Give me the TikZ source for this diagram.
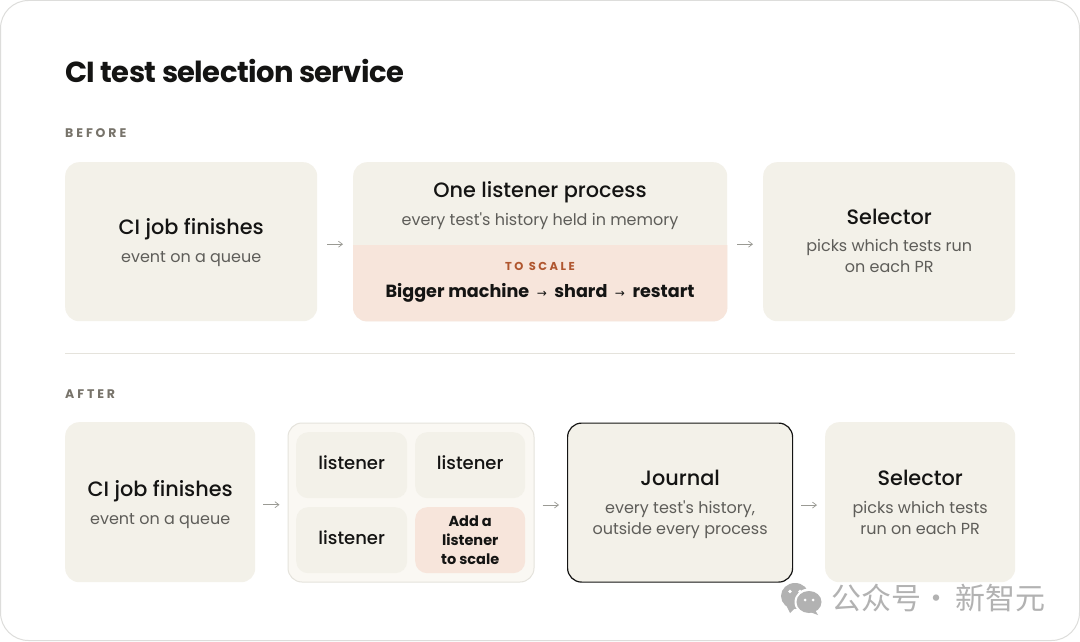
\documentclass[tikz,border=0pt]{standalone}
\usepackage{fontspec}
\setmainfont{Poppins}
\newfontfamily\preg{Poppins}
\newfontfamily\pmed{Poppins Medium}
\newfontfamily\pbold{Poppins Bold}
\newfontfamily\ptitle{Poppins Bold}[LetterSpace=-2.1]
\newfontfamily\arrowfont{DejaVu Sans}
\newfontfamily\cjk{Noto Sans CJK SC}
\usetikzlibrary{arrows.meta}
\definecolor{ink}{HTML}{141413}
\definecolor{subink}{HTML}{5E5D59}
\definecolor{labelink}{HTML}{77736A}
\definecolor{rust}{HTML}{B0562F}
\definecolor{card}{HTML}{F3F1E9}
\definecolor{peach}{HTML}{F7E5DB}
\definecolor{pale}{HTML}{FAF8F3}
\definecolor{edge}{HTML}{E5E3DC}
\definecolor{frame}{HTML}{DDDDDB}
\definecolor{arrowgrey}{HTML}{9A9A94}
\definecolor{wmgrey}{HTML}{B2B2B2}
\newcommand{\hdn}[1]{{\pmed\fontsize{20.8}{28}\selectfont\color{ink}#1}}
\newcommand{\hd}[1]{\hdn{\rule{0pt}{18pt}#1}}
\newcommand{\sbt}[1]{{\preg\fontsize{16}{21}\selectfont\color{subink}#1}}
\newcommand{\tarrow}{\kern7.5pt{\arrowfont\fontsize{12}{12}\selectfont→}\kern7.5pt}
\tikzset{
  cardbox/.style={fill=card,rounded corners=14pt,inner sep=0pt,align=center,anchor=north west,font=\fontsize{16}{21}\selectfont},
  cell/.style={fill=card,rounded corners=12pt,inner sep=0pt,align=center,anchor=north west,
    minimum width=111pt,minimum height=66pt,text=ink,font=\pmed\fontsize{18}{24}\selectfont},
  flow/.style={draw=arrowgrey,line width=0.8pt,
    -{Straight Barb[length=4pt,width=6pt,line width=0.7pt]}},
  seclabel/.style={anchor=base west,inner sep=0pt,text=labelink,font=\pbold\fontsize{12.5}{15}\selectfont},
}
\begin{document}
\begin{tikzpicture}[x=1pt,y=-1pt]
\useasboundingbox (0,0) rectangle (1080,642);
\fill[white] (0,0) rectangle (1080,642);
\draw[frame,line width=1pt,rounded corners=28pt] (0.5,0.5) rectangle (1079.5,640.5);

\node[anchor=base west,inner sep=0pt,text=ink,font=\ptitle\fontsize{29}{34}\selectfont] (title) at (65,83) {CI test selection service};
\node[seclabel] (before) at (65,137) {B\kern2.9pt E\kern2.9pt F\kern2.9pt O\kern2.9pt R\kern2.9pt E};
\node[seclabel] (after) at (65,398) {A\kern2.9pt F\kern2.9pt T\kern2.9pt E\kern2.9pt R};

% before row
\node[cardbox,minimum width=252pt,minimum height=159pt] (job1) at (65,162)
  {\hd{CI job finishes}\\[7pt]\sbt{event on a queue}};
\node[cardbox,minimum width=374pt,minimum height=159pt] (one) at (353,162) {};
\fill[peach,rounded corners=14pt] (one.west |- 0,245) [sharp corners] -- (one.east |- 0,245)
  [rounded corners=14pt] -- (one.south east) -- (one.south west) [sharp corners] -- cycle;
\node[inner sep=0pt,align=center,font=\fontsize{16}{21}\selectfont] (onetext) at (540,205) {\hd{One listener process}\\[7pt]\sbt{every test's history held in memory}};
\node[inner sep=0pt,text=rust,font=\pbold\fontsize{11.5}{14}\selectfont] (toscale) at (540,266) {T\kern2.5pt O\kern5.5pt S\kern2.5pt C\kern2.5pt A\kern2.5pt L\kern2.5pt E};
\node[inner sep=0pt,text=ink,font=\pbold\fontsize{17.6}{22}\selectfont] (bigger) at (540,293) {Bigger machine\tarrow shard\tarrow restart};
\node[cardbox,minimum width=252pt,minimum height=159pt] (sel1) at (763,162)
  {\hdn{Selector}\\[6pt]\sbt{picks which tests run}\\\sbt{on each PR}\rule[-2pt]{0pt}{2pt}};
\draw[flow,shorten >=10pt,shorten <=10pt] ([yshift=-2.5pt]job1.east) -- ([yshift=-2.5pt]job1.east -| one.west);
\draw[flow,shorten >=10pt,shorten <=10pt] ([yshift=-2.5pt]one.east) -- ([yshift=-2.5pt]sel1.west);

\draw[edge,line width=1pt] (65,353.5) coordinate (ruleL) -- (1015,353.5) coordinate (ruleR);

% after row
\node[cardbox,minimum width=190pt,minimum height=160pt] (job2) at (65,422)
  {\hdn{\rule{0pt}{20pt}CI job finishes}\\[7pt]\sbt{event on a queue}};
\node[cardbox,fill=pale,draw=edge,line width=1pt,minimum width=246pt,minimum height=159pt] (pool) at (287.5,422.5) {};
\node[cell] (l1) at (296,432) {\raisebox{6pt}{listener}};
\node[cell,minimum width=110pt] (l2) at (415,432) {\raisebox{6pt}{listener}};
\node[cell] (l3) at (296,507) {\raisebox{6pt}{listener}};
\node[cell,minimum width=110pt,fill=peach,font=\pbold\fontsize{14.5}{19}\selectfont] (l4) at (415,507) {Add a\\listener\\to scale};
\node[cardbox,draw=ink,line width=1.2pt,minimum width=225pt,minimum height=159pt] (journal) at (567,422.5)
  {\hd{Journal}\\[7pt]\sbt{every test's history,}\\\sbt{outside every process}};
\node[cardbox,minimum width=190pt,minimum height=160pt] (sel2) at (825,422)
  {\hdn{Selector}\\[7pt]\sbt{picks which tests}\\\sbt{run on each PR}};
\draw[flow,shorten >=8pt,shorten <=8pt] ([yshift=-2.5pt]job2.east) -- ([yshift=-2.5pt]job2.east -| pool.west);
\draw[flow,shorten >=8pt,shorten <=8pt] ([yshift=-2.5pt]pool.east) -- ([yshift=-2.5pt]pool.east -| journal.west);
\draw[flow,shorten >=8pt,shorten <=8pt] ([yshift=-2.5pt]journal.east) -- ([yshift=-2.5pt]journal.east -| sel2.west);

% watermark
\fill[wmgrey] (795,596) ellipse (14pt and 13pt);
\fill[wmgrey] (786,605) -- (790,613) -- (796,607) -- cycle;
\fill[white] (809,602) ellipse (14.5pt and 13.5pt);
\fill[wmgrey] (809,602) ellipse (12.5pt and 11pt);
\fill[wmgrey] (815,610) -- (818,615) -- (810,612) -- cycle;
\fill[white] (790,591.5) circle (1.8pt) (800,591.5) circle (1.8pt) (805,600) circle (1.5pt) (813,600) circle (1.5pt);
\node[inner sep=0pt,anchor=base west,text=wmgrey,font=\cjk\fontsize{30}{32}\selectfont] (wm) at (831,609.5) {公众号\kern0pt·\kern4pt新智元};
\end{tikzpicture}
\end{document}
